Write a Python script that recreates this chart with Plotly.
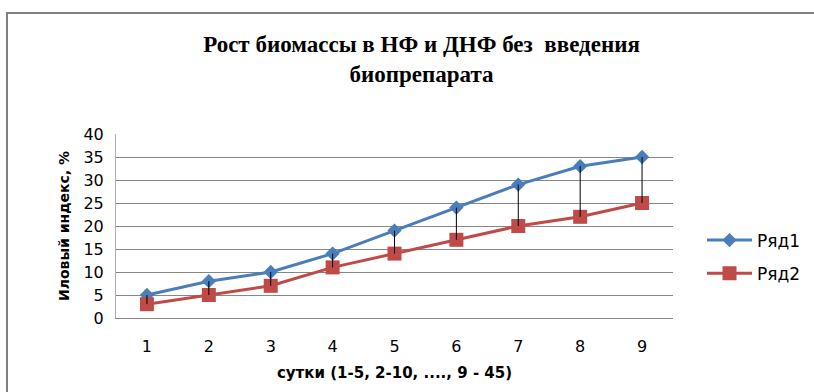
import plotly.graph_objects as go

# Data
days = [1, 2, 3, 4, 5, 6, 7, 8, 9]
series1 = [5, 8, 10, 14, 19, 24, 29, 33, 35]
series2 = [3, 5, 7, 11, 14, 17, 20, 22, 25]
y_ticks = [0, 5, 10, 15, 20, 25, 30, 35, 40]

W, H = 814, 392
L, R, T, B = 116, 141, 134, 74
pw, ph = W - L - R, H - T - B

def px_to_paper_x(px):
    return (px - L) / pw

def px_to_paper_y(py):
    return (H - B - py) / ph

sans = "DejaVu Sans"
blue = "#4A7EBB"
red = "#BE4B48"

fig = go.Figure()

fig.add_trace(go.Scatter(
    x=days, y=series1, name="Ряд1", mode="lines+markers",
    line=dict(color=blue, width=3),
    marker=dict(symbol="diamond", size=11, color=blue),
    legendgroup="a",
))
fig.add_trace(go.Scatter(
    x=days, y=series2, name="Ряд2", mode="lines+markers",
    line=dict(color=red, width=3),
    marker=dict(symbol="square", size=14, color=red),
    legendgroup="b",
))

# High-low connector lines between the two series
hx, hy = [], []
for d, a, b in zip(days, series1, series2):
    hx += [d, d, None]
    hy += [a, b, None]
fig.add_trace(go.Scatter(
    x=hx, y=hy, mode="lines", line=dict(color="black", width=1),
    showlegend=False, hoverinfo="skip",
))

fig.update_layout(
    width=W, height=H,
    margin=dict(l=L, r=R, t=T, b=B, autoexpand=False),
    paper_bgcolor="white", plot_bgcolor="white",
    title=dict(
        text="Рост биомассы в НФ и ДНФ без  введения<br>биопрепарата",
        font=dict(family="Liberation Serif", size=23, color="black", weight="bold"),
        x=(163 + 680) / 2 / W, xanchor="center",
        y=1 - 52 / H, yanchor="top",
    ),
    xaxis=dict(
        range=[0.5, 9.5], tickvals=days, ticktext=[str(d) for d in days],
        showgrid=False, zeroline=False, showline=True, linecolor="#868686",
        ticks="", ticklabelstandoff=14,
        tickfont=dict(family=sans, size=16, color="black"),
        title=dict(text="сутки (1-5, 2-10, ...., 9 - 45)", standoff=12,
                   font=dict(family=sans, size=15, color="black", weight="bold")),
    ),
    yaxis=dict(
        range=[0, 40], tickvals=y_ticks,
        showgrid=True, gridcolor="#868686", gridwidth=1,
        zeroline=False, showline=True, linecolor="#b0b0b0",
        ticks="", ticklabelstandoff=8,
        tickfont=dict(family=sans, size=16, color="black"),
        title=dict(text="Иловый индекс, %", standoff=10,
                   font=dict(family=sans, size=14, color="black", weight="bold")),
    ),
    legend=dict(
        x=px_to_paper_x(702), y=px_to_paper_y(257), xanchor="left", yanchor="middle",
        font=dict(family=sans, size=17, color="black"),
        tracegroupgap=8, itemwidth=45, bgcolor="rgba(0,0,0,0)",
    ),
    showlegend=True,
)

# Chart area frame
fig.add_shape(
    type="rect", xref="paper", yref="paper",
    x0=px_to_paper_x(7), x1=px_to_paper_x(830),
    y0=px_to_paper_y(410), y1=px_to_paper_y(13),
    line=dict(color="#7f7f7f", width=2), fillcolor="rgba(0,0,0,0)", layer="below",
)

fig.write_html("out.html")
